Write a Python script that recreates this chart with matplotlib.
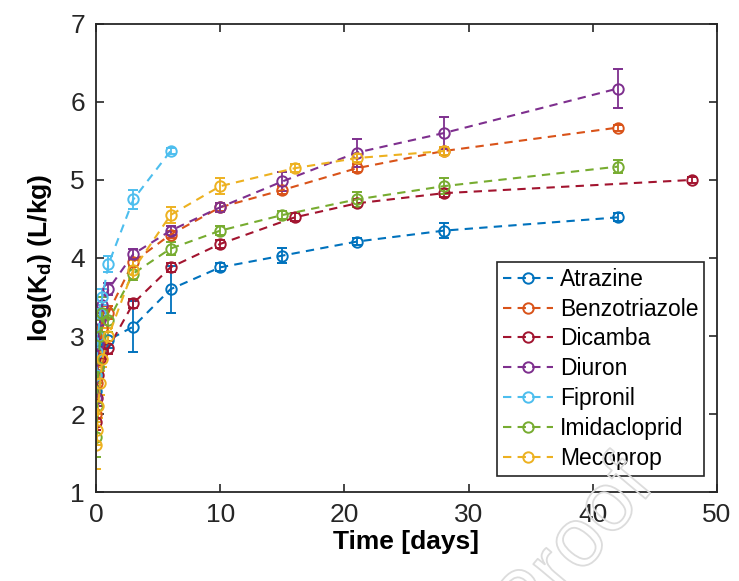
#### Sorption (log Kd) over time ####
import numpy as np
import matplotlib.pyplot as plt
import matplotlib.patheffects as pe
from matplotlib.lines import Line2D

plt.rcParams['font.family'] = ['Liberation Sans', 'DejaVu Sans']

# data
names = ['Atrazine', 'Benzotriazole', 'Dicamba', 'Diuron', 'Fipronil', 'Imidacloprid', 'Mecoprop']
colors = ['#0072BD', '#D95319', '#A2142F', '#7E2F8E', '#4DBEEE', '#77AC30', '#EDB120']

t_atr = [0.02, 0.08, 0.17, 0.33, 0.5, 1, 3, 6, 10, 15, 21, 28, 42]
v_atr = [2.3, 2.5, 2.6, 2.8, 2.9, 2.95, 3.12, 3.6, 3.88, 4.03, 4.21, 4.35, 4.52]
e_atr = [0.15, 0.1, 0.1, 0.1, 0.1, 0.1, 0.33, 0.3, 0.05, 0.1, 0.05, 0.1, 0.05]

t_btz = [0.02, 0.08, 0.17, 0.33, 0.5, 1, 3, 6, 10, 15, 21, 28, 42]
v_btz = [2.0, 2.4, 2.7, 2.9, 3.1, 3.3, 3.95, 4.3, 4.65, 4.87, 5.15, 5.37, 5.67]
e_btz = [0.1, 0.1, 0.1, 0.1, 0.1, 0.08, 0.05, 0.05, 0.05, 0.05, 0.05, 0.05, 0.04]

t_dic = [0.02, 0.08, 0.17, 0.33, 0.5, 1, 3, 6, 10, 16, 21, 28, 48]
v_dic = [1.9, 2.2, 2.5, 2.7, 2.8, 2.85, 3.42, 3.88, 4.18, 4.52, 4.7, 4.83, 5.0]
e_dic = [0.1, 0.1, 0.1, 0.1, 0.1, 0.08, 0.06, 0.06, 0.05, 0.05, 0.05, 0.05, 0.04]

t_diu = [0.02, 0.08, 0.17, 0.33, 0.5, 1, 3, 6, 10, 15, 21, 28, 42]
v_diu = [2.2, 2.6, 2.9, 3.2, 3.4, 3.6, 4.05, 4.35, 4.65, 4.98, 5.35, 5.6, 6.17]
e_diu = [0.1, 0.1, 0.1, 0.1, 0.1, 0.08, 0.06, 0.06, 0.06, 0.12, 0.18, 0.2, 0.25]

t_fip = [0.02, 0.08, 0.17, 0.33, 0.5, 1, 3, 6]
v_fip = [2.5, 2.8, 3.0, 3.3, 3.5, 3.92, 4.75, 5.37]
e_fip = [0.1, 0.1, 0.1, 0.1, 0.1, 0.1, 0.12, 0.04]

t_imi = [0.02, 0.08, 0.17, 0.33, 0.5, 1, 3, 6, 10, 15, 21, 28, 42]
v_imi = [1.7, 2.1, 2.6, 3.0, 3.3, 3.2, 3.8, 4.12, 4.35, 4.55, 4.75, 4.92, 5.17]
e_imi = [0.25, 0.25, 0.2, 0.2, 0.2, 0.15, 0.08, 0.08, 0.06, 0.05, 0.1, 0.1, 0.08]

t_mec = [0.02, 0.08, 0.17, 0.33, 0.5, 1, 3, 6, 10, 16, 21, 28]
v_mec = [1.6, 1.8, 2.1, 2.4, 2.7, 3.0, 3.85, 4.55, 4.92, 5.15, 5.28, 5.37]
e_mec = [0.3, 0.2, 0.15, 0.15, 0.1, 0.1, 0.12, 0.1, 0.1, 0.05, 0.05, 0.05]

series = [(t_atr, v_atr, e_atr), (t_btz, v_btz, e_btz), (t_dic, v_dic, e_dic),
          (t_diu, v_diu, e_diu), (t_fip, v_fip, e_fip), (t_imi, v_imi, e_imi),
          (t_mec, v_mec, e_mec)]

fig = plt.figure(figsize=(7.39, 5.81), dpi=100)
ax = fig.add_axes([0.130, 0.153, 0.840, 0.806])

dash = (0, (4, 3))
handles = []
for (t, v, e), name, c in zip(series, names, colors):
    ax.errorbar(t, v, yerr=e, fmt='o', linestyle=dash, color=c, lw=1.5,
                mfc='none', mec=c, mew=1.4, ms=7.5, capsize=3.5, elinewidth=1.3)
    handles.append(Line2D([], [], color=c, linestyle=dash, lw=1.5, marker='o',
                          mfc='none', mec=c, mew=1.4, ms=7.5, label=name))

ax.set_xlim(0, 50)
ax.set_ylim(1, 7)
ax.set_xticks([0, 10, 20, 30, 40, 50])
ax.set_yticks([1, 2, 3, 4, 5, 6, 7])
ax.tick_params(direction='in', labelsize=19, length=6, width=1.2,
               top=True, right=True, colors='#262626', labelcolor='#262626', pad=8)
for s in ax.spines.values():
    s.set_linewidth(1.3)
    s.set_color('#262626')

ax.set_xlabel('Time [days]', fontsize=19, fontweight='bold', labelpad=2)
ax.set_ylabel(r'log(K$_\mathregular{d}$) (L/kg)', fontsize=19, fontweight='bold', labelpad=12)

leg = ax.legend(handles=handles, loc='lower right', fontsize=16.5, frameon=True,
                fancybox=False, edgecolor='#262626', handlelength=2.2,
                handletextpad=0.3, labelspacing=0.3, borderpad=0.25,
                borderaxespad=0, bbox_to_anchor=(0.980, 0.035))
leg.get_frame().set_linewidth(1.2)
leg.get_frame().set_alpha(1)

# faint watermark, mostly off the page like in the source
fig.text(0.905, 0.23, 'Proof', fontsize=60, rotation=50, color='none',
         ha='right', va='top', zorder=10,
         path_effects=[pe.Stroke(linewidth=1.3, foreground='#dcdcdc')])

plt.savefig('out.png', dpi=100)
